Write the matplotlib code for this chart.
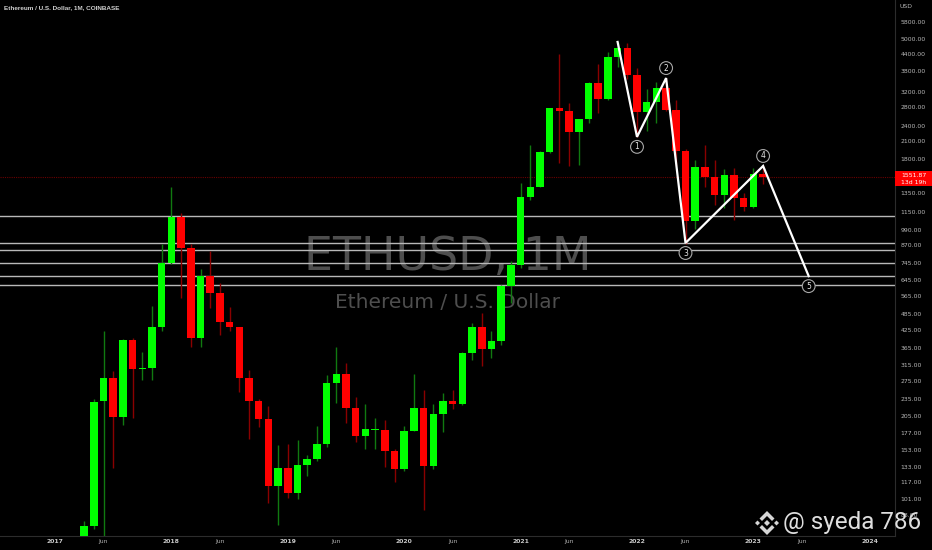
import matplotlib
matplotlib.use("Agg")
import matplotlib.pyplot as plt
from matplotlib.patches import Polygon, Rectangle
import numpy as np

# monthly ETHUSD candles (Coinbase)
months = ["2017-04", "2017-05", "2017-06", "2017-07", "2017-08", "2017-09", "2017-10", "2017-11", "2017-12",
          "2018-01", "2018-02", "2018-03", "2018-04", "2018-05", "2018-06", "2018-07", "2018-08", "2018-09",
          "2018-10", "2018-11", "2018-12",
          "2019-01", "2019-02", "2019-03", "2019-04", "2019-05", "2019-06", "2019-07", "2019-08", "2019-09",
          "2019-10", "2019-11", "2019-12",
          "2020-01", "2020-02", "2020-03", "2020-04", "2020-05", "2020-06", "2020-07", "2020-08", "2020-09",
          "2020-10", "2020-11", "2020-12",
          "2021-01", "2021-02", "2021-03", "2021-04", "2021-05", "2021-06", "2021-07", "2021-08", "2021-09",
          "2021-10", "2021-11", "2021-12",
          "2022-01", "2022-02", "2022-03", "2022-04", "2022-05", "2022-06", "2022-07", "2022-08", "2022-09",
          "2022-10", "2022-11", "2022-12",
          "2023-01", "2023-02"]
opens = [50, 80, 231, 282, 202, 390, 304, 306, 434,
         748, 1104, 849, 396, 669, 580, 453, 434, 282,
         232, 199, 113,
         131, 106, 135, 142, 161, 270, 292, 219, 172,
         181, 182, 152,
         130, 180, 219, 134, 208, 232, 226, 349, 434,
         361, 386, 615,
         735, 1314, 1425, 1917, 2783, 2712, 2270, 2536, 3442,
         3005, 4285, 4630,
         3684, 2690, 2930, 3296, 2736, 1932, 1067, 1687, 1550,
         1331, 1575, 1297,
         1201, 1590]
highs = [84, 236, 420, 300, 394, 395, 351, 519, 879,
         1424, 1142, 880, 710, 828, 631, 514, 436, 302,
         236, 222, 160,
         161, 167, 147, 188, 289, 366, 320, 240, 226,
         201, 198, 155,
         188, 292, 255, 226, 248, 255, 352, 449, 489,
         420, 620, 761,
         1475, 2034, 1940, 2790, 4400, 2900, 2545, 3470, 4040,
         4478, 4877, 4820,
         3908, 3280, 3480, 3580, 2980, 1970, 1790, 2033, 1787,
         1665, 1680, 1350,
         1680, 1715]
lows = [48, 78, 0.1, 131, 190, 200, 277, 278, 420,
        740, 556, 367, 366, 510, 406, 420, 250, 168,
        186, 98, 81,
        102, 101, 123, 140, 157, 228, 192, 164, 154,
        154, 132, 117,
        128, 180, 92, 130, 178, 217, 225, 328, 312,
        334, 374, 533,
        715, 1276, 1420, 1900, 1747, 1703, 1720, 2455, 2668,
        2970, 3940, 3550,
        2180, 2300, 2450, 2710, 1700, 880, 1000, 1425, 1224,
        1190, 1077, 1166,
        1190, 1462]
closes = [80, 230, 282, 202, 390, 304, 306, 434, 748,
          1104, 849, 396, 669, 580, 453, 434, 282, 232,
          199, 113, 131,
          106, 135, 142, 161, 270, 292, 219, 172, 183,
          183, 152, 130,
          180, 219, 134, 208, 232, 226, 349, 434, 361,
          386, 615, 735,
          1314, 1425, 1917, 2783, 2712, 2270, 2536, 3442, 3005,
          4285, 4630, 3684,
          2690, 2930, 3296, 2736, 1932, 1067, 1687, 1550, 1331,
          1575, 1297, 1201,
          1590, 1552]

# drawn levels and the wave count
levels = [1114, 886, 834, 748, 669, 620]
wave_months = ["2021-11", "2022-01", "2022-04", "2022-06", "2023-02", "2023-06"]
wave_offsets = [0, 0, 0, 0, 0, 0.7]
wave_prices = [4877, 2180, 3590, 886, 1703, 669]
wave_labels = ["", "1", "2", "3", "4", "5"]
wave_label_side = [0, -1, 1, -1, 1, -1]

last_price = 1551.87
countdown = "13d 19h"

price_ticks = [88, 101, 117, 133, 153, 177, 205, 235, 275, 315, 365, 425, 485, 565, 645, 745,
               870, 990, 1150, 1350, 1800, 2100, 2400, 2800, 3200, 3800, 4400, 5000, 5800]
year_labels = ["2017", "2018", "2019", "2020", "2021", "2022", "2023", "2024"]


def month_index(s):
    y, m = s.split("-")
    return (int(y) - 2017) * 12 + int(m) - 1


W, H = 932, 550
fig = plt.figure(figsize=(W / 100, H / 100), dpi=100, facecolor="black")
ax = fig.add_axes([0, 14 / H, 895 / W, 536 / H])
ax.set_facecolor("black")
ax.set_yscale("log")

x = np.array([month_index(m) for m in months], dtype=float)
o = np.array(opens, dtype=float)
h = np.array(highs, dtype=float)
l = np.array(lows, dtype=float)
c = np.array(closes, dtype=float)
up = c >= o

lo_body = np.minimum(o, c)
hi_body = np.maximum(o, c)
hi_body = np.maximum(hi_body, lo_body * 1.009)  # at least ~1px body

ax.vlines(x[up], l[up], h[up], color="#107a10", lw=1, zorder=3)
ax.vlines(x[~up], l[~up], h[~up], color="#8a0000", lw=1, zorder=3)
ax.bar(x[up], hi_body[up] - lo_body[up], bottom=lo_body[up], width=0.78,
       color="#00ff00", linewidth=0, zorder=4)
ax.bar(x[~up], hi_body[~up] - lo_body[~up], bottom=lo_body[~up], width=0.78,
       color="#ff0000", linewidth=0, zorder=4)

for lv in levels:
    ax.axhline(lv, color="#b8b8b8", lw=1.0, zorder=2)
ax.axhline(last_price, color="#6a0000", lw=0.8, ls=(0, (1, 1)), zorder=1)

# wave
wx = np.array([month_index(m) for m in wave_months], dtype=float) + np.array(wave_offsets)
ax.plot(wx, wave_prices, color="white", lw=1.6, zorder=6, solid_joinstyle="miter")
for xx, yy, lab, side in zip(wx, wave_prices, wave_labels, wave_label_side):
    if not lab:
        continue
    off = 7.2 * side
    ax.annotate("", (xx, yy), xytext=(0, off), textcoords="offset points")
    ax.plot([xx], [yy], alpha=0)
    ax.annotate(lab, (xx, yy), xytext=(0, off), textcoords="offset points",
                ha="center", va="center", color="#e8e8e8", fontsize=5.5, zorder=8,
                bbox=dict(boxstyle="circle,pad=0.25", fc="black", ec="#a8a8a8", lw=0.8))

# watermark
ax.text(0.5, 1 - 270 / 536, "ETHUSD, 1M", transform=ax.transAxes, ha="center", va="baseline",
        fontsize=33, color="#4e4e4e", zorder=0)
ax.text(0.5, 1 - 308 / 536, "Ethereum / U.S. Dollar", transform=ax.transAxes, ha="center",
        va="baseline", fontsize=14.5, color="#4e4e4e", zorder=0)

# axes limits: 9.7 px per month, Jan 2017 at x=55
ax.set_xlim(-55 / 9.7, 840 / 9.7)
ax.set_ylim(73.8, 6961)

ax.yaxis.tick_right()
ax.set_yticks(price_ticks)
ax.set_yticklabels(["%.2f" % v for v in price_ticks])
ax.yaxis.set_minor_locator(matplotlib.ticker.NullLocator())
ax.tick_params(axis="y", length=0, pad=4, labelsize=4.4, labelcolor="#b8b8b8")

xt, xl = [], []
for i, yl in enumerate(year_labels):
    xt.append(i * 12)
    xl.append(yl)
    if i < len(year_labels) - 1:
        xt.append(i * 12 + 5)
        xl.append("Jun")
ax.set_xticks(xt)
ax.set_xticklabels(xl)
ax.tick_params(axis="x", length=0, pad=2.5, labelsize=4.4, labelcolor="#b0b0b0")
for t in ax.get_xticklabels():
    if t.get_text() != "Jun":
        t.set_fontweight("bold")
        t.set_color("#c8c8c8")

for s in ["left", "top"]:
    ax.spines[s].set_visible(False)
for s in ["right", "bottom"]:
    ax.spines[s].set_color("#2c2c2c")
    ax.spines[s].set_linewidth(0.8)

# overlay in pixel coordinates
ov = fig.add_axes([0, 0, 1, 1], zorder=10)
ov.set_xlim(0, W)
ov.set_ylim(H, 0)
ov.axis("off")
ov.patch.set_alpha(0)

ov.text(4, 8, "Ethereum / U.S. Dollar, 1M, COINBASE", family="Liberation Sans", fontweight="bold",
        fontsize=4.6, color="#d0d0d0", ha="left", va="center")
ov.text(900, 6, "USD", fontsize=4.4, color="#b8b8b8", ha="left", va="center")

ov.add_patch(Rectangle((895, 171), 37, 15, color="#ff0000", lw=0))
ov.text(901, 175.5, "%.2f" % last_price, fontsize=4.4, color="white", ha="left", va="center")
ov.text(901, 182.5, countdown, fontsize=4.4, color="white", ha="left", va="center")

# binance-like logo and signature
cx, cy = 767, 523
lc = "#d6d6d6"
top_chev = [(-7.5, -4.5), (0, -12), (7.5, -4.5), (5, -2), (0, -7), (-5, -2)]
bot_chev = [(px, -py) for px, py in top_chev]
dia = lambda dx, r: [(dx, -r), (dx + r, 0), (dx, r), (dx - r, 0)]
for shape in [top_chev, bot_chev, dia(0, 3), dia(-9.5, 2.5), dia(9.5, 2.5)]:
    ov.add_patch(Polygon([(cx + px, cy + py) for px, py in shape], closed=True, color=lc, lw=0))
ov.text(783, 523, "@ syeda 786", family="Roboto", fontsize=17.5, color="#dedede",
        ha="left", va="center")

fig.savefig("out.png", dpi=100, facecolor="black")
